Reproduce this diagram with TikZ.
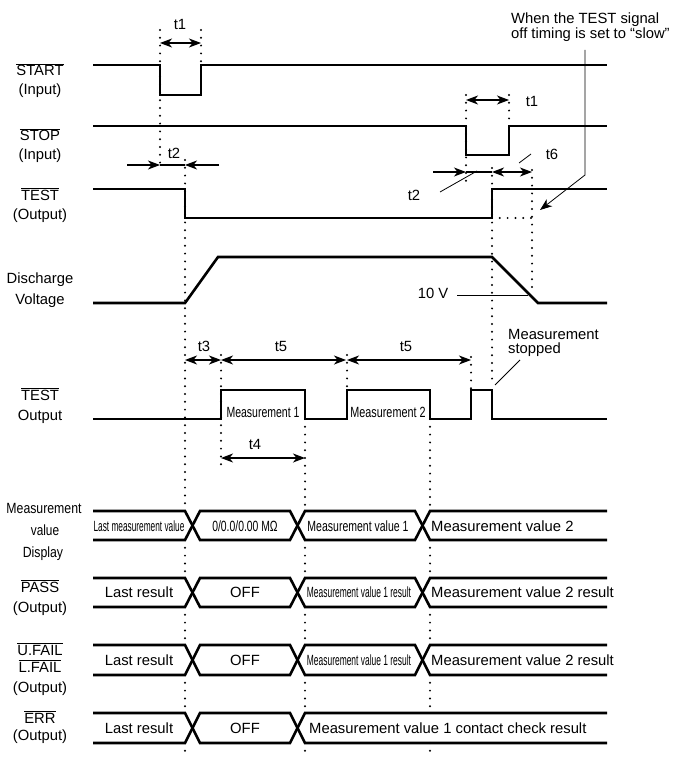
\documentclass[tikz,border=0pt]{standalone}
\usepackage{fontspec}
\setmainfont{Liberation Sans}
\usepackage{graphicx}
\usetikzlibrary{arrows.meta}
\tikzset{>={Stealth[length=12pt,width=9pt,inset=3.5pt]}}
\tikzset{
  wave/.style={line width=2.6pt},
  guide/.style={line width=2.2pt, line cap=round, dash pattern=on 0pt off 7.8pt},
  dim/.style={line width=1.2pt},
  leader/.style={line width=0.8pt},
  lbl/.style={anchor=base, inner sep=0pt, font=\fontsize{14.8}{16}\selectfont}
}
\newcommand{\ovl}[1]{$\overline{\hbox{#1}}$}
\newcommand{\cnd}[2]{\scalebox{#1}[1]{#2}}

\begin{document}
\begin{tikzpicture}[x=1pt, y=-1pt]
      \useasboundingbox (0, 0) rectangle (681, 762);
      % signal names
      \node[lbl] (startname) at (40, 76) { \ovl{START} };
      \node[lbl] (startdir) at (40, 95) { (Input) };
      \node[lbl] (stopname) at (40, 141) { \ovl{STOP} };
      \node[lbl] (stopdir) at (40, 160) { (Input) };
      \node[lbl] (testname) at (40, 200) { \ovl{TEST} };
      \node[lbl] (testdir) at (40, 219) { (Output) };
      \node[lbl] (dischname) at (40, 283) { Discharge };
      \node[lbl] (dischunit) at (40, 304) { Voltage };
      \node[lbl] (measname) at (40, 400) { \ovl{TEST} };
      \node[lbl] (measdir) at (40, 420) { Output };
      \node[lbl] (dispname) at (44, 513) { \cnd{0.83}{Measurement} };
      \node[lbl] (dispmid) at (45, 535) { \cnd{0.8}{value} };
      \node[lbl] (dispdir) at (43, 557) { \cnd{0.83}{Display} };
      \node[lbl] (passname) at (40, 592) { \ovl{PASS} };
      \node[lbl] (passdir) at (40, 612) { (Output) };
      \node[lbl] (ufailname) at (40, 655) { \ovl{U.FAIL} };
      \node[lbl] (lfailname) at (40, 672) { \ovl{L.FAIL} };
      \node[lbl] (faildir) at (40, 692) { (Output) };
      \node[lbl] (errname) at (40, 723) { \ovl{ERR} };
      \node[lbl] (errdir) at (40, 740) { (Output) };
      % waveforms
      \draw[wave] (93, 65) -- (160, 65) -- (160, 95) -- (201, 95) -- (201, 65) -- (607, 65);
      \draw[wave] (93, 126) -- (466, 126) -- (466, 155) -- (509, 155) -- (509, 126) -- (607, 126);
      \draw[wave] (93, 189) -- (185, 189) -- (185, 218) -- (492, 218) -- (492, 189) -- (607, 189);
      \draw[wave] (93, 303) -- (185, 303) -- (218, 257) -- (492, 257) -- (538, 303) -- (607, 303);
      \draw[wave] (93, 419) -- (221, 419) -- (221, 390) -- (305, 390) -- (305, 419) -- (347, 419)
        -- (347, 390) -- (430, 390) -- (430, 419) -- (471, 419) -- (471, 390) -- (492, 390)
        -- (492, 419) -- (607, 419);
      \foreach \t/\b in {511/540, 578/607, 645/675} {
        \draw[wave] (93, \t) -- (185, \t) -- (200, \b) -- (290, \b) -- (305, \t) -- (415, \t) -- (430, \b) -- (607, \b);
        \draw[wave] (93, \b) -- (185, \b) -- (200, \t) -- (290, \t) -- (305, \b) -- (415, \b) -- (430, \t) -- (607, \t);
      }
      \draw[wave] (93, 713) -- (185, 713) -- (200, 743) -- (290, 743) -- (305, 713) -- (607, 713);
      \draw[wave] (93, 743) -- (185, 743) -- (200, 713) -- (290, 713) -- (305, 743) -- (607, 743);
      % timing guides
      \draw[guide] (160, 30) -- (160, 170);
      \draw[guide] (201, 30) -- (201, 65);
      \draw[guide] (185, 160) -- (185, 511);
      \draw[guide] (466, 95) -- (466, 188);
      \draw[guide] (509, 95) -- (509, 126);
      \draw[guide] (492, 168) -- (492, 385);
      \draw[guide] (492, 218) -- (532, 218);
      \draw[guide] (532, 170) -- (532, 292);
      \draw[guide] (221, 355) -- (221, 465);
      \draw[guide] (347, 355) -- (347, 390);
      \draw[guide] (471, 357) -- (471, 390);
      \draw[guide] (305, 419) -- (305, 511);
      \draw[guide] (430, 419) -- (430, 511);
      \foreach \x in {185, 305, 430} {
        \foreach \a/\b in {540/578, 607/645, 675/713, 743/758}
          \draw[guide] (\x, \a) -- (\x, \b);
      }
      % intervals
      \draw[dim, <->] (160, 43) -- (201, 43);
      \draw[dim, ->] (127, 165) -- (160, 165);
      \draw[dim, ->] (219, 165) -- (185, 165);
      \draw[dim] (160, 165) -- (185, 165);
      \draw[dim, <->] (466, 100) -- (509, 100);
      \draw[dim, ->] (433, 172) -- (466, 172);
      \draw[dim] (466, 172) -- (492, 172);
      \draw[dim, <->] (492, 172) -- (532, 172);
      \draw[dim, <->] (185, 360) -- (221, 360);
      \draw[dim, <->] (221, 360) -- (346, 360);
      \draw[dim, <->] (347, 360) -- (471, 360);
      \draw[dim, <->] (221, 458) -- (305, 458);
      \node[lbl] (tonea) at (180, 30) { t1 };
      \node[lbl] (ttwoa) at (174, 159) { t2 };
      \node[lbl] (toneb) at (532, 107) { t1 };
      \node[lbl] (tsix) at (552, 160) { t6 };
      \node[lbl] (ttwob) at (414, 200) { t2 };
      \node[lbl] (tthree) at (204, 351) { t3 };
      \node[lbl] (tfivea) at (281, 351) { t5 };
      \node[lbl] (tfiveb) at (406, 351) { t5 };
      \node[lbl] (tfour) at (255, 449) { t4 };
      % notes
      \node[lbl, anchor=base west] (slowa) at (511, 24) { When the TEST signal };
      \node[lbl, anchor=base west] (slowb) at (511, 38.5) { off timing is set to “slow” };
      \node[lbl] (tenvolt) at (433, 298) { 10 V };
      \node[lbl, anchor=base west] (stopa) at (508, 339) { Measurement };
      \node[lbl, anchor=base west] (stopb) at (508, 353) { stopped };
      \draw[leader] (440, 192) -- (477, 171);
      \draw[leader] (519, 163) -- (531, 154);
      \draw[leader] (457, 295) -- (528, 295);
      \draw[leader] (520, 360) -- (495, 385);
      \draw[leader, ->] (585, 50) -- (585, 175) -- (540, 210);
      % pulse texts
      \node[lbl] (meas1) at (263, 417) { \cnd{0.71}{Measurement 1} };
      \node[lbl] (meas2) at (388, 417) { \cnd{0.73}{Measurement 2} };
      % bus values
      \node[lbl] (displast) at (139, 531) { \cnd{0.56}{Last measurement value} };
      \node[lbl] (dispzero) at (245, 531) { \cnd{0.70}{0/0.0/0.00 MΩ} };
      \node[lbl] (dispone) at (358, 531) { \cnd{0.71}{Measurement value 1} };
      \node[lbl, anchor=base west] (disptwo) at (431, 531) { Measurement value 2 };
      \node[lbl] (passlast) at (139, 597.5) { Last result };
      \node[lbl] (passoff) at (245, 597.5) { OFF };
      \node[lbl] (passone) at (359, 597.5) { \cnd{0.57}{Measurement value 1 result} };
      \node[lbl, anchor=base west] (passtwo) at (431, 597.5) { Measurement value 2 result };
      \node[lbl] (faillast) at (139, 665) { Last result };
      \node[lbl] (failoff) at (245, 665) { OFF };
      \node[lbl] (failone) at (359, 665) { \cnd{0.57}{Measurement value 1 result} };
      \node[lbl, anchor=base west] (failtwo) at (431, 665) { Measurement value 2 result };
      \node[lbl] (errlast) at (139, 733) { Last result };
      \node[lbl] (erroff) at (245, 733) { OFF };
      \node[lbl, anchor=base west] (errone) at (309, 733) { Measurement value 1 contact check result };
\end{tikzpicture}
\end{document}
